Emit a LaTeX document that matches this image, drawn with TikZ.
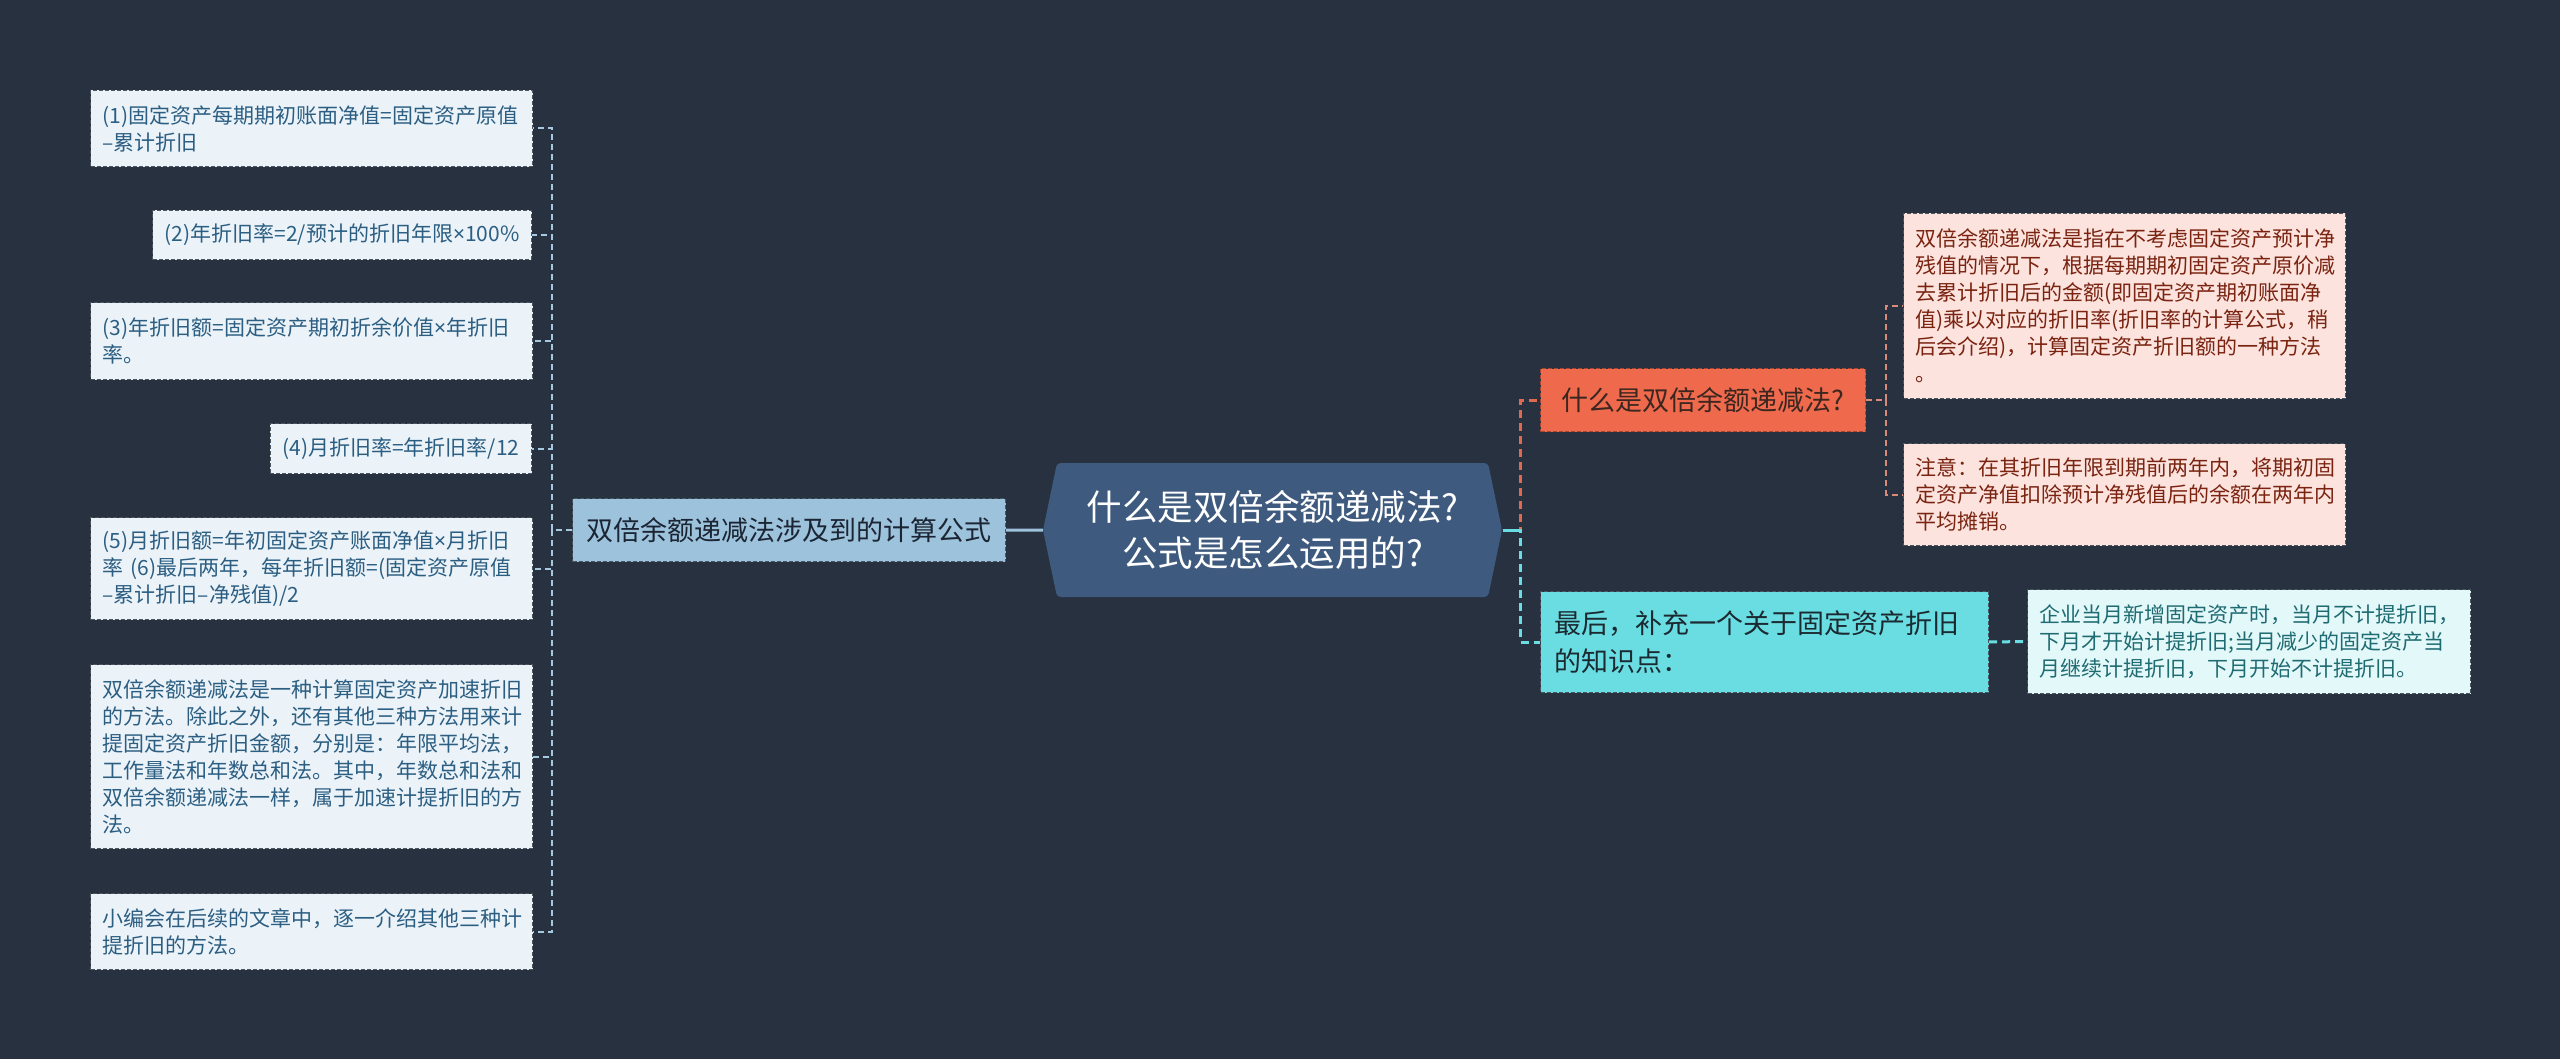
\documentclass[tikz,border=0pt]{standalone}
\usepackage{fontspec}
\setmainfont{Noto Sans CJK SC}
\newfontfamily\latinfont{Noto Sans}
\newcommand{\mulsign}{{\latinfont ×}}
\definecolor{bgc}{HTML}{283140}
\definecolor{lfill}{HTML}{EBF3F9}
\definecolor{ltext}{HTML}{2C5E82}
\definecolor{bord}{HTML}{4A5560}
\definecolor{mfill}{HTML}{9DC2DC}
\definecolor{mtext}{HTML}{1B2533}
\definecolor{cfill}{HTML}{3E5A7E}
\definecolor{ofill}{HTML}{EF6A4C}
\definecolor{otext}{HTML}{3C2620}
\definecolor{obord}{HTML}{A8452F}
\definecolor{pfill}{HTML}{FCE3DE}
\definecolor{ptext}{HTML}{7A2310}
\definecolor{cyfill}{HTML}{6ADDE3}
\definecolor{cytext}{HTML}{1A2A30}
\definecolor{lcfill}{HTML}{E3F8F9}
\definecolor{lctext}{HTML}{1E6B72}
\definecolor{lline}{HTML}{A6C9E1}
\definecolor{oline}{HTML}{E06A50}
\definecolor{pline}{HTML}{D98A78}
\tikzset{
  x=0.4pt, y=-0.4pt,
  boxbase/.style={draw=bord, line width=0.4pt, dash pattern=on 1.6pt off 0.8pt, inner ysep=0pt, inner xsep=4.8pt},
  smalltxt/.style={font=\fontsize{8.4pt}{10.8pt}\selectfont},
  lbox/.style={boxbase, smalltxt, fill=lfill, text=ltext, align=left},
  pbox/.style={boxbase, smalltxt, fill=pfill, text=ptext, align=left, text width=167.2pt, anchor=north west},
  lcbox/.style={boxbase, smalltxt, fill=lcfill, text=lctext, align=left, text width=167.6pt, anchor=north west},
  lconn/.style={draw=lline, line width=0.8pt, dash pattern=on 2.4pt off 1.6pt},
  oconn/.style={draw=oline, line width=1.2pt, dash pattern=on 3.2pt off 2pt},
  cconn/.style={draw=cyfill, line width=1.2pt, dash pattern=on 3.2pt off 2pt},
  pconn/.style={draw=pline, line width=0.8pt, dash pattern=on 2.4pt off 1.6pt},
  mconn/.style={draw=mfill, line width=1.2pt},
  csolid/.style={draw=cyfill, line width=1.2pt},
}
\begin{document}
\begin{tikzpicture}
\fill[bgc] (0,0) rectangle (2560,1059);
\useasboundingbox (0,0) rectangle (2560,1059);

% left leaves
\node[lbox, anchor=north west, text width=167.2pt, minimum height=30.4pt] (L1) at (90,90)
  {(1)固定资产每期期初账面净值=固定资产原值\\–累计折旧};
\node[lbox, anchor=north east, minimum height=19.6pt] (L2) at (532,210)
  {(2)年折旧率=2/预计的折旧年限\mulsign 100\%};
\node[lbox, anchor=north west, text width=167.2pt, minimum height=30.8pt] (L3) at (90,302)
  {(3)年折旧额=固定资产期初折余价值\mulsign 年折旧\\率。};
\node[lbox, anchor=north east, minimum height=20pt] (L4) at (532,423)
  {(4)月折旧率=年折旧率/12};
\node[lbox, anchor=north west, text width=167.2pt, minimum height=40.8pt] (L5) at (90,517)
  {(5)月折旧额=年初固定资产账面净值\mulsign 月折旧\\率 (6)最后两年，每年折旧额=(固定资产原值\\–累计折旧–净残值)/2};
\node[lbox, anchor=north west, text width=167.2pt, minimum height=73.6pt] (L6) at (90,664)
  {双倍余额递减法是一种计算固定资产加速折旧\\的方法。除此之外，还有其他三种方法用来计\\提固定资产折旧金额，分别是：年限平均法，\\工作量法和年数总和法。其中，年数总和法和\\双倍余额递减法一样，属于加速计提折旧的方\\法。};
\node[lbox, anchor=north west, text width=167.2pt, minimum height=30.4pt] (L7) at (90,893)
  {小编会在后续的文章中，逐一介绍其他三种计\\提折旧的方法。};

% middle-left
\node[boxbase, fill=mfill, text=mtext, font=\fontsize{10.8pt}{13pt}\selectfont,
  minimum width=173.2pt, minimum height=25.2pt, anchor=north west] (M) at (572,498)
  {双倍余额递减法涉及到的计算公式};

% central
\fill[cfill, rounded corners=1.5pt] (1043,530) -- (1057,463) -- (1488,463) -- (1502,530) -- (1488,597) -- (1057,597) -- cycle;
\node[inner sep=0pt, minimum width=183.6pt, minimum height=53.6pt, text=white, align=center,
  font=\fontsize{14.2pt}{18.4pt}\selectfont] (C) at (1272.5,530)
  {什么是双倍余额递减法?\\公式是怎么运用的?};

% right side
\node[boxbase, draw=obord, fill=ofill, text=otext, font=\fontsize{10.8pt}{13pt}\selectfont,
  inner xsep=6pt, minimum width=130pt, minimum height=25.2pt, anchor=north west, align=left] (O) at (1540,368)
  {什么是双倍余额递减法?};
\node[pbox, minimum height=74pt] (P1) at (1903,213)
  {双倍余额递减法是指在不考虑固定资产预计净\\残值的情况下，根据每期期初固定资产原价减\\去累计折旧后的金额(即固定资产期初账面净\\值)乘以对应的折旧率(折旧率的计算公式，稍\\后会介绍)，计算固定资产折旧额的一种方法\\。};
\node[pbox, minimum height=40.8pt] (P2) at (1903,443)
  {注意：在其折旧年限到期前两年内，将期初固\\定资产净值扣除预计净残值后的余额在两年内\\平均摊销。};
\node[boxbase, fill=cyfill, text=cytext, font=\fontsize{10.8pt}{15.2pt}\selectfont,
  inner xsep=5.6pt, text width=168pt, minimum height=40.4pt, anchor=north west, align=left] (Cy) at (1540,591)
  {最后，补充一个关于固定资产折旧\\的知识点：};
\node[lcbox, minimum height=41.6pt] (LC) at (2027,589)
  {企业当月新增固定资产时，当月不计提折旧，\\下月才开始计提折旧;当月减少的固定资产当\\月继续计提折旧，下月开始不计提折旧。};

% connectors left
\foreach \n in {L1,L2,L3,L4,L5,L6,L7}
  \draw[lconn] (M.west) -- ++(-20,0) |- (\n.east);
\draw[mconn] (M.east) -- (C.west -| 1043,530);

% connectors right
\draw[oconn] (C.east) -- ++(18,0) |- (O.west);
\draw[cconn] (C.east) -- ++(18,0) |- (Cy.west);
\draw[csolid] (C.east) -- ++(18,0);
\draw[pconn] (O.east) -- ++(20,0) |- (P1.west);
\draw[pconn] (O.east) -- ++(20,0) |- (P2.west);
\draw[cconn] (Cy.east) -- (LC.west);
\end{tikzpicture}
\end{document}
